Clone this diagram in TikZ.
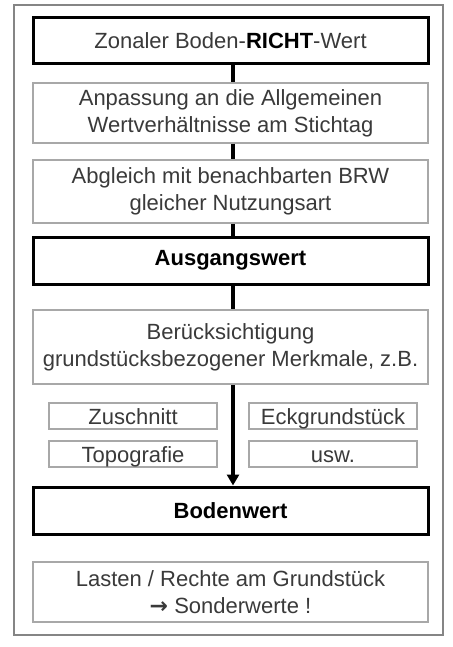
\documentclass[tikz,border=0pt]{standalone}
\usepackage{fontspec}
\setmainfont{Liberation Sans}
\newfontfamily\arrowfont{DejaVu Sans}
\usetikzlibrary{arrows.meta}
\definecolor{txt}{HTML}{3A3A3A}
\definecolor{thinb}{HTML}{A8A8A8}
\definecolor{frame}{HTML}{858585}
\begin{document}
\begin{tikzpicture}[x=1pt,y=-1pt,
  every node/.style={font=\fontsize{22}{27}\selectfont, text=txt, align=center, inner sep=0pt},
  thickbox/.style={draw=black, line width=3pt, minimum width=395pt},
  thinbox/.style={draw=thinb, line width=1.5pt, minimum width=395pt},
  smallbox/.style={draw=thinb, line width=1.5pt, minimum width=168pt, minimum height=26pt, text height=17pt, text depth=1pt},
  link/.style={draw=black, line width=4pt},
  arrowlink/.style={draw=black, line width=4pt, -{Triangle[length=11pt,width=12pt]}}]
\useasboundingbox (0,0) rectangle (452,647);
\fill[white] (0,0) rectangle (452,647);
\draw[frame, line width=2pt] (14,5) rectangle (443,635);
\node[thickbox, minimum height=46pt] (b1) at (230.5,41) {Zonaler Boden-\textbf{\textcolor{black}{RICHT}}-Wert};
\node[thinbox, minimum height=60pt] (b2) at (230.5,113) {Anpassung an die Allgemeinen\\Wertverhältnisse am Stichtag};
\node[thinbox, minimum height=63pt] (b3) at (230.5,191.5) {Abgleich mit benachbarten BRW\\gleicher Nutzungsart};
\node[thickbox, minimum height=47pt] (b4) at (230.5,260.5) {\textbf{\textcolor{black}{Ausgangswert}}};
\node[thinbox, minimum height=74pt] (b5) at (230.5,347) {Berücksichtigung\\grundstücksbezogener Merkmale, z.B.};
\node[smallbox] (s1) at (133,416) {Zuschnitt};
\node[smallbox] (s2) at (133,454) {Topografie};
\node[smallbox] (s3) at (333,416) {Eckgrundstück};
\node[smallbox] (s4) at (333,454) {usw.};
\node[thickbox, minimum height=47pt] (b6) at (230.5,510.5) {\textbf{\textcolor{black}{Bodenwert}}};
\node[thinbox, minimum height=60pt] (b7) at (230.5,592) {Lasten / Rechte am Grundstück\\{\arrowfont\bfseries\fontsize{22}{27}\selectfont →} Sonderwerte !};
\draw[link] (b1.south -| 233,0) -- (b2.north -| 233,0);
\draw[link] (b2.south -| 233,0) -- (b3.north -| 233,0);
\draw[link] (b3.south -| 233,0) -- (b4.north -| 233,0);
\draw[link] (b4.south -| 233,0) -- (b5.north -| 233,0);
\draw[arrowlink] (b5.south -| 233,0) -- (b6.north -| 233,0);
\end{tikzpicture}
\end{document}
